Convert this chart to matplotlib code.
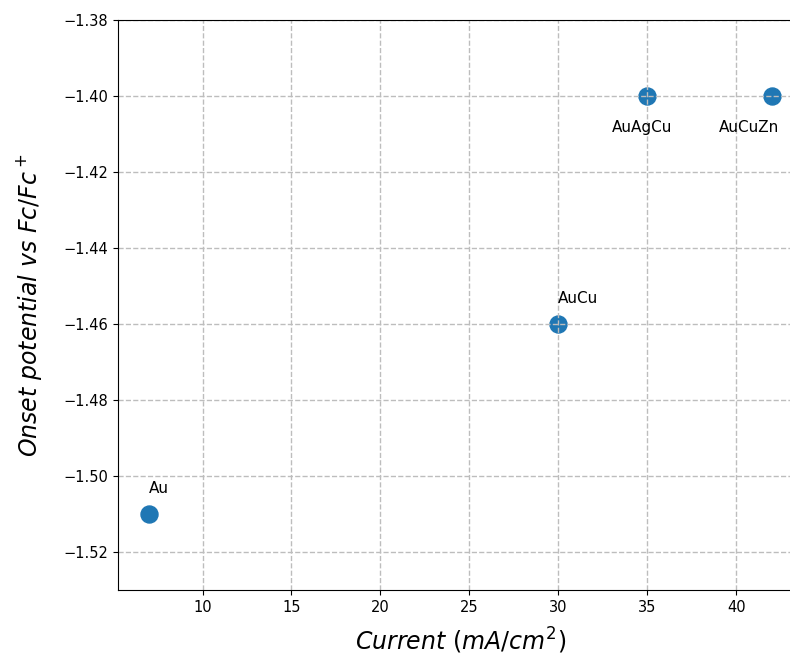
import matplotlib.pyplot as plt

# Onset potential vs current for the catalysts
names = ['Au', 'AuCu', 'AuAgCu', 'AuCuZn']
current = [7, 30, 35, 42]
onset = [-1.51, -1.46, -1.40, -1.40]
# label offsets (data units) so the text does not sit on the marker
dx = [0, 0, -2, -3]
dy = [0.0055, 0.0055, -0.0095, -0.0095]

fig = plt.figure(figsize=(7.9, 6.57), dpi=100)
ax = fig.add_axes([118 / 790, 67 / 657, 685 / 790, 570 / 657])

ax.scatter(current, onset, s=150, color='#1f77b4')
for n, x, y, ox, oy in zip(names, current, onset, dx, dy):
    ax.text(x + ox, y + oy, n, fontsize=11)

ax.set_ylim(-1.53, -1.38)
ax.grid(True, linestyle='--', color='#bdbdbd', linewidth=1)
ax.set_xlabel('$Current\\ (mA/cm^2)$', fontsize=17, labelpad=8)
ax.set_ylabel('$Onset\\ potential\\ vs\\ Fc/Fc^+$', fontsize=17, labelpad=14)
ax.tick_params(labelsize=10.5)

fig.savefig('out.png', dpi=100)
